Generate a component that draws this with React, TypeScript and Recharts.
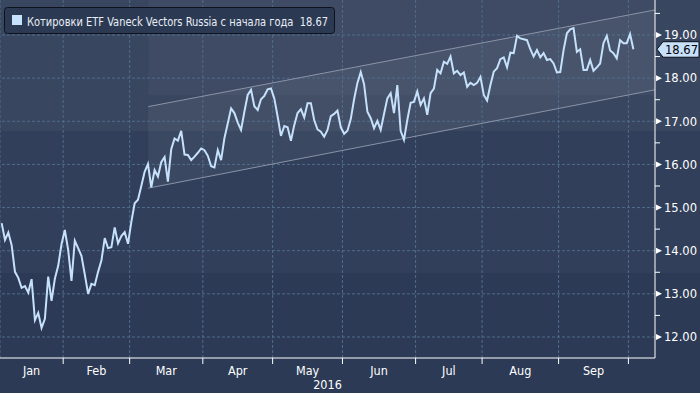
import { ComposedChart, Line, Area, XAxis, YAxis, ReferenceLine, ReferenceArea } from 'recharts'

// Daily closes, one array per month (trading days only)
const JAN = [14.64, 14.25, 14.42, 14.13, 13.51, 13.37, 13.14, 13.18, 13.03, 13.34, 12.39, 12.56, 12.21, 12.42, 13.4, 12.84, 13.35, 13.65, 14.15]
const FEB = [14.48, 14.02, 13.3, 14.23, 14.06, 13.88, 13.45, 13.0, 13.23, 13.2, 13.51, 13.77, 14.29, 14.06, 14.08, 14.54, 14.17, 14.34, 14.43, 14.16]
const MAR = [14.67, 15.1, 15.18, 15.5, 15.83, 16.01, 15.47, 15.87, 15.72, 16.05, 16.17, 15.6, 16.35, 16.6, 16.55, 16.78, 16.23, 16.22, 16.1, 16.18, 16.27, 16.37]
const APR = [16.33, 16.2, 15.96, 15.93, 16.33, 16.1, 16.61, 16.95, 17.3, 17.19, 16.97, 16.8, 17.22, 17.61, 17.73, 17.35, 17.26, 17.51, 17.59, 17.74, 17.76]
const MAY = [17.53, 17.11, 16.66, 16.89, 16.86, 16.55, 16.91, 17.19, 17.28, 17.09, 17.42, 17.42, 17.03, 16.81, 16.76, 16.64, 16.8, 17.12, 17.17, 17.25, 16.86]
const JUN = [16.71, 16.78, 17.05, 17.51, 17.89, 18.14, 17.86, 17.22, 17.07, 16.84, 17.01, 16.8, 17.17, 17.53, 17.65, 17.19, 17.84, 16.78, 16.57, 17.03, 17.43, 17.45]
const JUL = [17.69, 17.38, 17.53, 17.15, 17.65, 17.76, 18.19, 18.11, 18.38, 18.33, 18.5, 18.11, 18.17, 18.07, 18.13, 17.8, 17.89, 17.84, 17.89, 18.03]
const AUG = [17.61, 17.48, 17.84, 18.15, 18.23, 18.44, 18.48, 18.25, 18.59, 18.58, 18.98, 18.92, 18.9, 18.88, 18.67, 18.5, 18.65, 18.48, 18.58, 18.42, 18.44, 18.34, 18.13]
const SEP = [18.14, 18.65, 19.04, 19.13, 19.16, 18.61, 18.67, 18.19, 18.19, 18.42, 18.17, 18.25, 18.34, 18.81, 18.98, 18.64, 18.58, 18.46, 18.88, 18.81, 18.81]
const OCT = [19.02, 18.67]

const MONTHS = ['Jan', 'Feb', 'Mar', 'Apr', 'May', 'Jun', 'Jul', 'Aug', 'Sep']
const BY_MONTH = [JAN, FEB, MAR, APR, MAY, JUN, JUL, AUG, SEP, OCT]
const LAST = 18.67
const PRICE_TICKS = [12, 12.5, 13, 13.5, 14, 14.5, 15, 15.5, 16, 16.5, 17, 17.5, 18, 18.5, 19, 19.5]
const GRID_Y = [12, 13, 14, 15, 16, 17, 18, 19]

// trend channel drawn on the chart (trading-day index, price)
const CHANNEL_X = [44.1, 196.5]
const CHANNEL_LOW = [15.45, 17.73]
const CHANNEL_HIGH = [17.34, 19.58]
const HIGHLIGHT_FROM = 17.61

const X_DOMAIN: [number, number] = [-0.5, 196.5]
const Y_DOMAIN: [number, number] = [11.513, 19.811]

const FONT = "'Liberation Sans Narrow', 'DejaVu Sans Condensed', 'DejaVu Sans', sans-serif"
const LINE_BLUE = '#c6e1fb'
const GRID = '#4f6d8c'
const CHANNEL_STROKE = '#8a93a6'

const priceData: { x: number; price: number }[] = []
const boundaries: number[] = []
const mids: number[] = []
{
  let i = 0
  BY_MONTH.forEach((arr, m) => {
    boundaries.push(i - 0.5)
    if (m < MONTHS.length) mids.push(i + (arr.length - 1) / 2)
    arr.forEach(v => priceData.push({ x: i++, price: v }))
  })
}

const channelData = CHANNEL_X.map((x, k) => ({
  x,
  lo: CHANNEL_LOW[k],
  hi: CHANNEL_HIGH[k],
  band: [CHANNEL_LOW[k], CHANNEL_HIGH[k]],
}))

function MonthTick(props: any) {
  const { x, y, payload } = props
  const k = mids.indexOf(payload.value)
  if (k >= 0) {
    return (
      <text x={x} y={y + 16.5} textAnchor="middle" fill="#fff" fontSize={12.5} fontFamily={FONT}>
        {MONTHS[k]}
      </text>
    )
  }
  return <line x1={x} x2={x} y1={y} y2={y + 6} stroke="#fff" strokeWidth={1} />
}

function PriceTick(props: any) {
  const { x, y, payload } = props
  const v = payload.value as number
  if (v % 1 !== 0) return <line x1={x} x2={x + 5} y1={y} y2={y} stroke="#fff" strokeWidth={1} />
  return (
    <g>
      <polygon points={`${x + 1},${y - 3} ${x + 7},${y} ${x + 1},${y + 3}`} fill="#fff" />
      <text x={x + 9} y={y + 4.3} fill="#fff" fontSize={11.5} fontFamily={FONT} textLength={33} lengthAdjust="spacingAndGlyphs">
        {v.toFixed(2)}
      </text>
    </g>
  )
}

function LastTag(props: any) {
  const vb = props.viewBox || {}
  const x = vb.x + vb.width + 2
  const y = vb.y
  return (
    <g>
      <polygon
        points={`${x},${y} ${x + 6},${y - 7.5} ${x + 42},${y - 7.5} ${x + 42},${y + 8} ${x + 6},${y + 8}`}
        fill="#c8e1fb"
        stroke="#0b0f18"
        strokeWidth={1}
      />
      <text x={x + 8} y={y + 4.5} fill="#000" fontSize={11.5} fontFamily={FONT} textLength={33} lengthAdjust="spacingAndGlyphs">
        {LAST.toFixed(2)}
      </text>
    </g>
  )
}

export default function App() {
  return (
    <div
      style={{
        position: 'absolute',
        left: 0,
        top: 0,
        width: 700,
        height: 393,
        background:
          'linear-gradient(to bottom, #39465f 0px, #39465f 131px, #313f5a 131px, #313f5a 273px, #2c3a55 273px, #2c3a55 393px)',
      }}
    >
      <ComposedChart width={700} height={393} data={priceData} margin={{ top: 0, right: 0, bottom: 0, left: 0 }}>
        <XAxis
          dataKey="x"
          type="number"
          domain={X_DOMAIN}
          allowDataOverflow
          ticks={[...boundaries.slice(1), ...mids]}
          interval={0}
          tick={MonthTick}
          tickLine={false}
          tickSize={0}
          tickMargin={0}
          axisLine={{ stroke: '#fff' }}
          height={35}
          label={{ value: '2016', position: 'insideBottom', offset: 4, fill: '#fff', fontSize: 12.5, fontFamily: FONT }}
        />
        <YAxis
          orientation="right"
          type="number"
          domain={Y_DOMAIN}
          allowDataOverflow
          ticks={PRICE_TICKS}
          interval={0}
          tick={PriceTick}
          tickLine={false}
          tickSize={0}
          tickMargin={0}
          axisLine={{ stroke: '#fff' }}
          width={45}
        />
        <ReferenceArea x1={CHANNEL_X[0]} x2={CHANNEL_X[1]} y1={HIGHLIGHT_FROM} y2={Y_DOMAIN[1]} fill="#ffffff" fillOpacity={0.03} stroke="none" />
        {GRID_Y.map(v => (
          <ReferenceLine key={'gy' + v} y={v} stroke={GRID} strokeDasharray="3 2" />
        ))}
        {boundaries.map(b => (
          <ReferenceLine key={'gx' + b} x={b} stroke={GRID} strokeDasharray="3 2" />
        ))}
        <Area data={channelData} dataKey="band" stroke="none" fill="#ffffff" fillOpacity={0.05} activeDot={false} isAnimationActive={false} />
        <Line data={channelData} dataKey="lo" stroke={CHANNEL_STROKE} strokeWidth={1} dot={false} activeDot={false} isAnimationActive={false} />
        <Line data={channelData} dataKey="hi" stroke={CHANNEL_STROKE} strokeWidth={1} dot={false} activeDot={false} isAnimationActive={false} />
        <Line dataKey="price" stroke={LINE_BLUE} strokeWidth={2} dot={false} activeDot={false} isAnimationActive={false} />
        <ReferenceLine y={LAST} stroke="none" label={LastTag} />
      </ComposedChart>
      <svg width={700} height={40} style={{ position: 'absolute', left: 0, top: 0, pointerEvents: 'none' }}>
        <rect x={4.5} y={7.5} width={330} height={26} rx={3} fill="#2c3953" stroke="#0d121c" strokeWidth={1} />
        <rect x={12} y={15} width={10} height={10} fill={LINE_BLUE} />
        <text
          x={27}
          y={25.5}
          fill="#e8eef6"
          fontSize={12.5}
          fontFamily={FONT}
          textLength={301}
          lengthAdjust="spacingAndGlyphs"
          style={{ whiteSpace: 'pre' }}
        >
          {'Котировки ETF Vaneck Vectors Russia с начала года  18.67'}
        </text>
      </svg>
    </div>
  )
}
